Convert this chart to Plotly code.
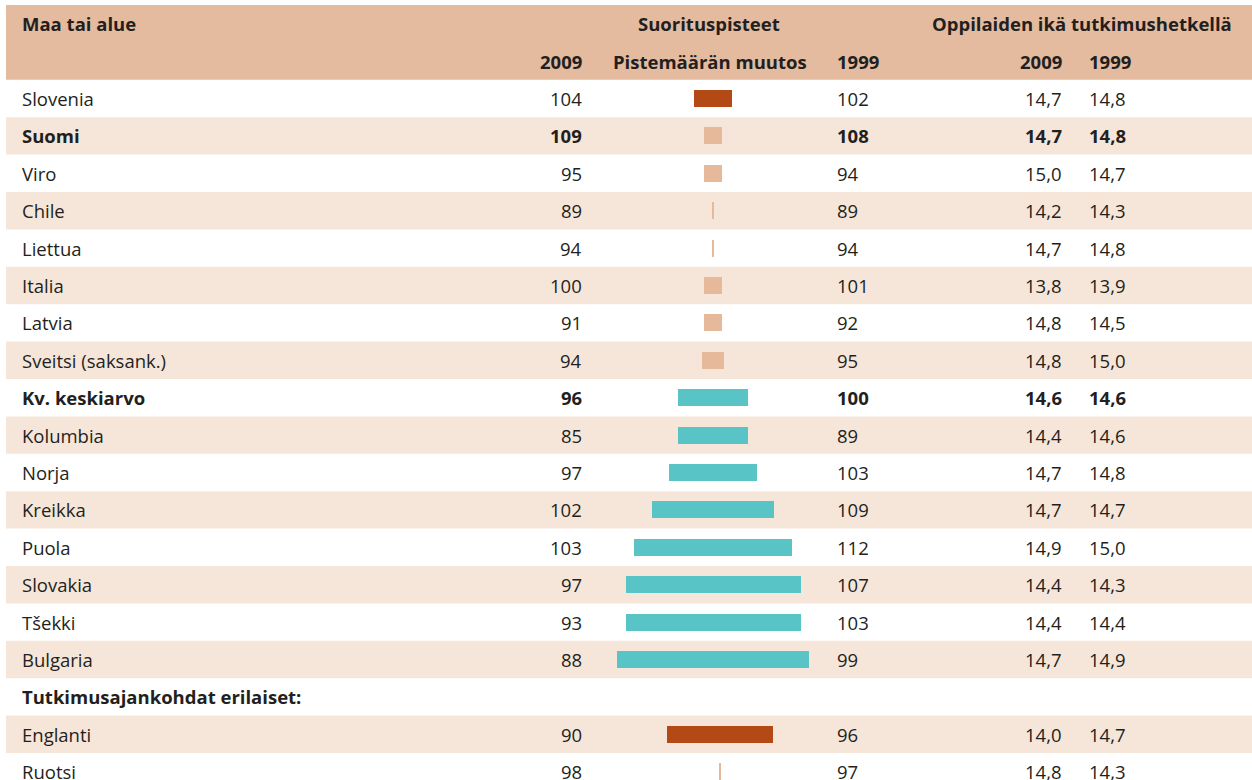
import plotly.graph_objects as go

# ---------------- data ----------------
countries = ["Slovenia", "Suomi", "Viro", "Chile", "Liettua", "Italia", "Latvia",
             "Sveitsi (saksank.)", "Kv. keskiarvo", "Kolumbia", "Norja", "Kreikka",
             "Puola", "Slovakia", "Tšekki", "Bulgaria", "Englanti", "Ruotsi"]
score_2009 = [104, 109, 95, 89, 94, 100, 91, 94, 96, 85, 97, 102, 103, 97, 93, 88, 90, 98]
score_1999 = [102, 108, 94, 89, 94, 101, 92, 95, 100, 89, 103, 109, 112, 107, 103, 99, 96, 97]
age_2009 = ["14,7", "14,7", "15,0", "14,2", "14,7", "13,8", "14,8", "14,8", "14,6",
            "14,4", "14,7", "14,7", "14,9", "14,4", "14,4", "14,7", "14,0", "14,8"]
age_1999 = ["14,8", "14,8", "14,7", "14,3", "14,8", "13,9", "14,5", "15,0", "14,6",
            "14,6", "14,8", "14,7", "15,0", "14,3", "14,4", "14,9", "14,7", "14,3"]
score_change = [2.2, 1.0, 1.0, 0.1, 0.1, -1.0, -1.0, -1.3, -4.0, -4.0, -5.0, -7.0,
                -9.0, -10.0, -10.0, -11.0, -6.1, 0.1]
change_group = ["sig", "ns", "ns", "ns", "ns", "ns", "ns", "ns", "down", "down", "down",
                "down", "down", "down", "down", "down", "sig", "ns"]
bold_rows = ["Suomi", "Kv. keskiarvo"]
section_label = "Tutkimusajankohdat erilaiset:"
section_before = "Englanti"

header_top = ["Maa tai alue", "Suorituspisteet", "Oppilaiden ikä tutkimushetkellä"]
header_sub = ["2009", "Pistemäärän muutos", "1999", "2009", "1999"]

# ---------------- style ----------------
C_HEAD = "#E4BB9F"
C_SHADE = "#F6E6DA"
C_TEXT = "#231F20"
GROUP_COLORS = {"sig": "#B34A16", "ns": "#E6B99B", "down": "#59C4C6"}
FONT = "Open Sans"
FS = 18.5

# row layout: assign row indices, inserting section label row
rows = []
r = 0
section_row = None
for c in countries:
    if c == section_before:
        section_row = r
        r += 1
    rows.append(r)
    r += 1
n_rows = r

W, H = 1252, 780
ML, MT = 6, 5
ROW_PX = 37.4
y_bottom = (H - MT) / ROW_PX - 2

fig = go.Figure()

# bars: centred at zero; main block on x2, second block (different survey dates) on x3
mag = [abs(v) for v in score_change]
main_idx = [i for i in range(len(countries)) if rows[i] < section_row]
low_idx = [i for i in range(len(countries)) if rows[i] > section_row]
for idx, ax in ((main_idx, "x2"), (low_idx, "x3")):
    fig.add_trace(go.Bar(
        y=[rows[i] + 0.5 for i in idx], x=[mag[i] for i in idx],
        base=[-mag[i] / 2 for i in idx],
        orientation="h", width=0.45,
        marker=dict(color=[GROUP_COLORS[change_group[i]] for i in idx], line=dict(width=0)),
        xaxis=ax, yaxis="y", showlegend=False, hoverinfo="skip",
    ))

shapes = []
shapes.append(dict(type="rect", xref="paper", yref="y", x0=0, x1=1, y0=-2, y1=0,
                   fillcolor=C_HEAD, line=dict(width=0), layer="below"))
for i in range(n_rows):
    if i % 2 == 1:
        shapes.append(dict(type="rect", xref="paper", yref="y", x0=0, x1=1, y0=i, y1=i + 1,
                           fillcolor=C_SHADE, line=dict(width=0), layer="below"))

ann = []


def txt(x, y, s, anchor, bold=False):
    ann.append(dict(x=x, y=y, xref="x", yref="y", text=f"<b>{s}</b>" if bold else s,
                    xanchor=anchor, yanchor="middle", showarrow=False,
                    font=dict(family=FONT, size=FS, color=C_TEXT)))


XL = 20
# headers
txt(XL, -1.5, header_top[0], "left", True)
txt(709, -1.5, header_top[1], "center", True)
txt(1234, -1.5, header_top[2], "right", True)
txt(584, -0.5, header_sub[0], "right", True)
txt(710, -0.5, header_sub[1], "center", True)
txt(835, -0.5, header_sub[2], "left", True)
txt(1064, -0.5, header_sub[3], "right", True)
txt(1087, -0.5, header_sub[4], "left", True)

for i, c in enumerate(countries):
    yy = rows[i] + 0.5
    b = c in bold_rows
    txt(XL, yy, c, "left", b)
    txt(584, yy, str(score_2009[i]), "right", b)
    txt(835, yy, str(score_1999[i]), "left", b)
    txt(1064, yy, age_2009[i], "right", b)
    txt(1087, yy, age_1999[i], "left", b)
txt(XL, section_row + 0.5, section_label, "left", True)

# x axis in pixel units; x2/x3 carry bar values (17.5 px per point)
px_per_unit = 17.5


def centred_range(zero_px):
    return [-(zero_px - ML) / px_per_unit, (W - zero_px) / px_per_unit]


fig.update_layout(
    width=W, height=H,
    margin=dict(l=ML, r=0, t=MT, b=0, pad=0),
    paper_bgcolor="white", plot_bgcolor="white",
    shapes=shapes, annotations=ann,
    xaxis=dict(range=[ML, W], visible=False, fixedrange=True),
    xaxis2=dict(range=centred_range(713), overlaying="x", visible=False, fixedrange=True),
    xaxis3=dict(range=centred_range(720), overlaying="x", visible=False, fixedrange=True),
    yaxis=dict(range=[y_bottom, -2], visible=False, fixedrange=True),
    bargap=0,
    font=dict(family=FONT, color=C_TEXT),
)

fig.write_html("out.html", config={"displayModeBar": False, "staticPlot": True},
               post_script="document.body.style.margin='0';document.body.style.overflow='hidden';")
